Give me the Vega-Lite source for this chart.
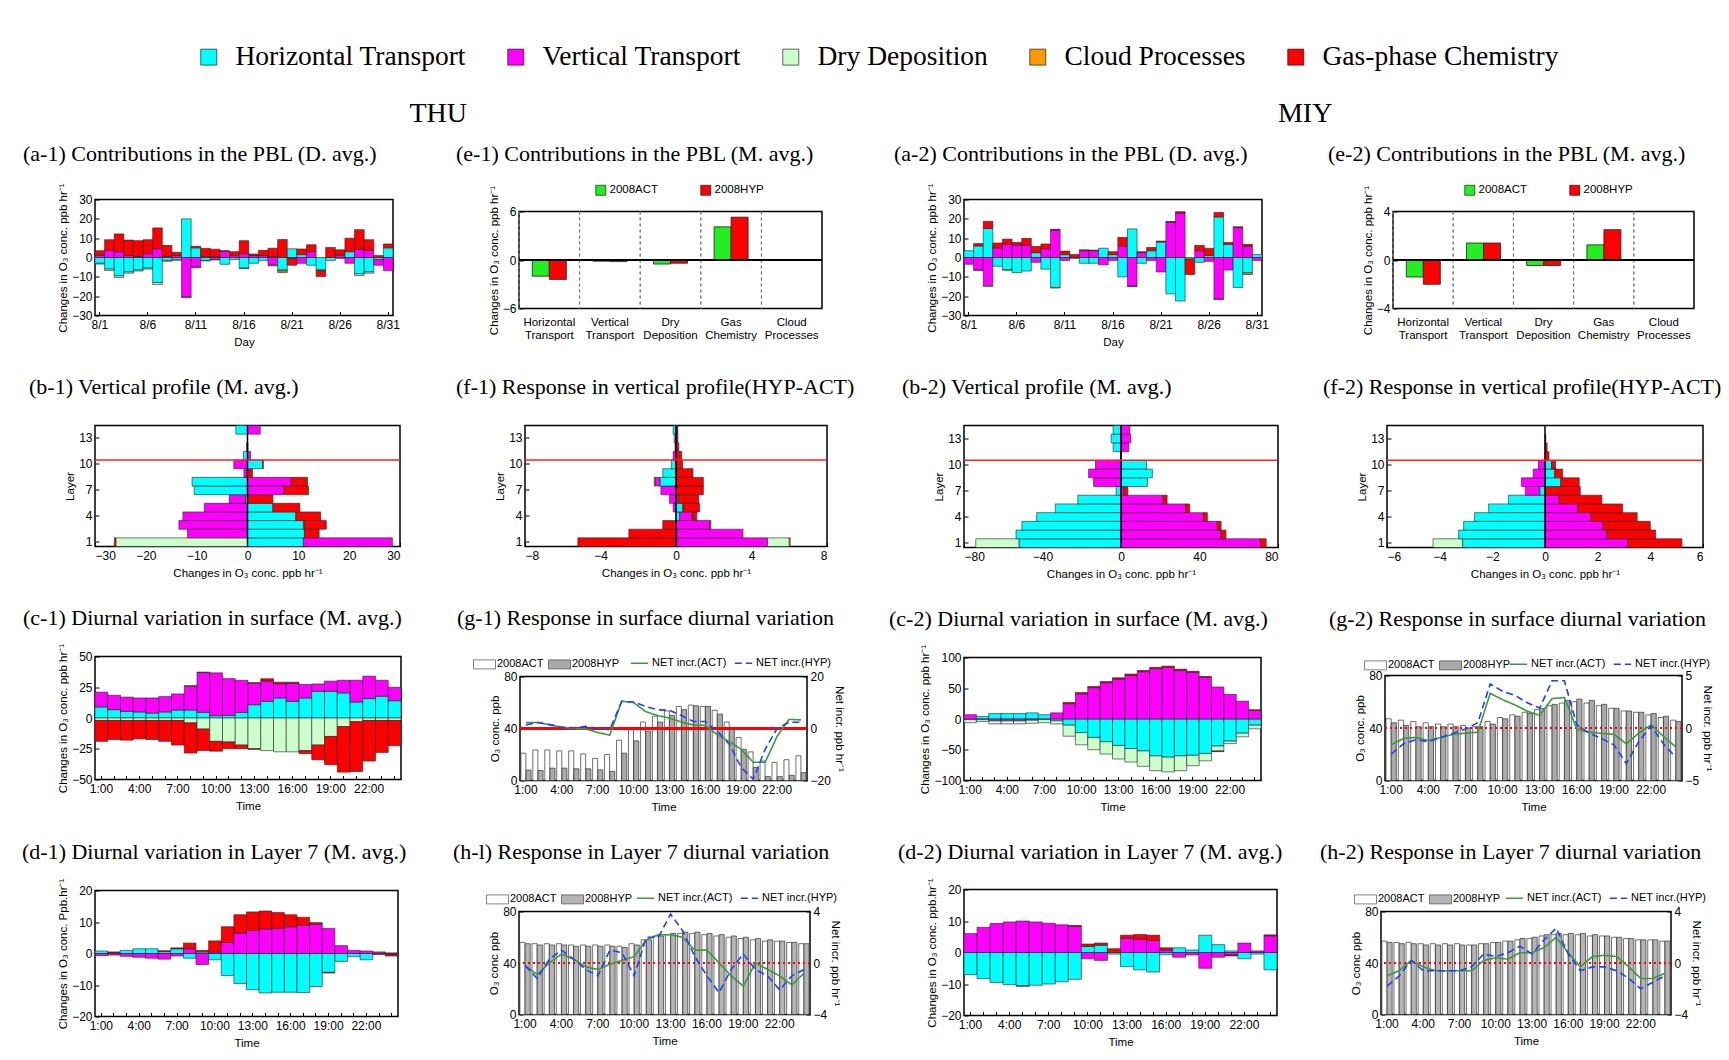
{
"$schema":"https://vega.github.io/schema/vega-lite/v6.json",
"background":"white",
"padding":{"left":22,"top":43,"right":2,"bottom":5},
"config":{
 "font":"Liberation Sans",
 "view":{"stroke":"black","strokeWidth":1.5},
 "axis":{"domain":false,"grid":false,"ticks":true,"tickSize":-4,"tickColor":"black","labelPadding":7,"labelFont":"Liberation Sans","labelFontSize":12,"labelColor":"black","titleFont":"Liberation Sans","titleFontSize":11.5,"titleFontWeight":"normal","titleColor":"black","titlePadding":3,"labelOverlap":false},
 "axisX":{"labelAngle":0,"labelPadding":8,"titlePadding":6},
 "title":{"font":"Liberation Serif","fontSize":22,"fontWeight":"normal","color":"black","anchor":"start","frame":"group"},
 "legend":{"labelFont":"Liberation Sans","labelColor":"black"},
 "bar":{"stroke":"#222","strokeWidth":0.6}
},
"datasets":{
 "rank":[{"proc":"HT","rank":1},{"proc":"VT","rank":2},{"proc":"DD","rank":3},{"proc":"CP","rank":4},{"proc":"GC","rank":5}],
 "proc":[
{"p":"a1","x":1,"HT":-3,"VT":1.2,"DD":-0.4,"GC":2.3},
{"p":"a1","x":2,"HT":-6,"VT":3.7,"DD":-0.7,"GC":5.5},
{"p":"a1","x":3,"HT":-9.5,"VT":3,"DD":-0.8,"GC":9.2},
{"p":"a1","x":4,"HT":-7.5,"VT":1,"DD":-0.6,"GC":8},
{"p":"a1","x":5,"HT":-6.5,"VT":0.5,"DD":-0.5,"GC":8.2},
{"p":"a1","x":6,"HT":-5.5,"VT":2,"DD":-0.5,"GC":7.2},
{"p":"a1","x":7,"HT":-13,"VT":4.5,"DD":-1,"GC":10.8},
{"p":"a1","x":8,"HT":-1.5,"VT":0.5,"DD":-0.5,"GC":5.8},
{"p":"a1","x":9,"HT":-1,"VT":1,"DD":-0.5,"GC":1.7},
{"p":"a1","x":10,"HT":20,"VT":-20.5,"DD":-0.3},
{"p":"a1","x":11,"HT":5,"VT":-5,"DD":-0.3,"GC":0.8},
{"p":"a1","x":12,"HT":-1.5,"VT":0.5,"DD":-0.3,"GC":4.2},
{"p":"a1","x":13,"HT":0.5,"VT":-1,"DD":-0.3,"GC":3.8},
{"p":"a1","x":14,"HT":-3.5,"VT":3.2,"GC":0.3},
{"p":"a1","x":15,"HT":-1,"VT":1,"GC":2},
{"p":"a1","x":16,"HT":-5.5,"VT":2,"DD":-0.3,"GC":6.7},
{"p":"a1","x":17,"HT":-3,"VT":1,"GC":0.8},
{"p":"a1","x":18,"HT":-1.5,"VT":1,"GC":2.7},
{"p":"a1","x":19,"HT":0.5,"VT":-4,"DD":-0.3,"GC":4.3},
{"p":"a1","x":20,"HT":-6.5,"DD":-0.5,"CP":-0.8,"GC":9.3},
{"p":"a1","x":21,"HT":4.5,"VT":-0.5,"GC":-3.5},
{"p":"a1","x":22,"HT":1.5,"VT":-3,"GC":2.9},
{"p":"a1","x":23,"HT":-4,"VT":3,"GC":3.6},
{"p":"a1","x":24,"HT":-6.5,"DD":-0.3,"GC":-3},
{"p":"a1","x":25,"HT":-1.5,"GC":5.2},
{"p":"a1","x":26,"HT":-0.5,"VT":1.2,"GC":2.8},
{"p":"a1","x":27,"HT":3,"VT":-3,"GC":7},
{"p":"a1","x":28,"HT":-8.5,"VT":4.2,"DD":-0.8,"GC":10.2},
{"p":"a1","x":29,"HT":-7.5,"VT":3.7,"DD":-0.6,"GC":5.5},
{"p":"a1","x":30,"HT":-1,"VT":-3,"GC":1},
{"p":"a1","x":31,"HT":5,"VT":-6.8,"GC":2},
{"p":"a2","x":1,"HT":3.5,"VT":-3.5},
{"p":"a2","x":2,"HT":6,"VT":-6.5,"DD":-0.3,"GC":1.2},
{"p":"a2","x":3,"HT":15,"VT":-14.5,"DD":-0.5,"GC":3.7},
{"p":"a2","x":4,"HT":-4.5,"VT":5,"GC":2.5},
{"p":"a2","x":5,"HT":-6.3,"VT":7,"DD":-0.3,"GC":2.5},
{"p":"a2","x":6,"HT":-7.8,"VT":6.5,"GC":1.3},
{"p":"a2","x":7,"HT":-7,"VT":6.5,"GC":3.4},
{"p":"a2","x":8,"HT":2.5,"VT":-2.5,"GC":3.2},
{"p":"a2","x":9,"HT":-6,"VT":4.5,"GC":2.5},
{"p":"a2","x":10,"HT":-15.5,"VT":14.2,"DD":-0.3,"GC":0.4},
{"p":"a2","x":11,"HT":1.5,"VT":-1.5,"GC":1.8},
{"p":"a2","x":12,"HT":-0.5,"GC":1.5},
{"p":"a2","x":13,"HT":-3,"VT":3.5,"GC":0.5},
{"p":"a2","x":14,"HT":-3,"VT":3.5,"GC":0.3},
{"p":"a2","x":15,"HT":4.8,"VT":-3.8},
{"p":"a2","x":16,"HT":1.5,"VT":-1.5,"GC":1.5},
{"p":"a2","x":17,"HT":-10,"VT":6,"GC":4.4},
{"p":"a2","x":18,"HT":14.8,"VT":-14.8,"DD":-0.2},
{"p":"a2","x":19,"HT":-3,"VT":2.5,"GC":0.5},
{"p":"a2","x":20,"HT":3.5,"VT":-1.5,"GC":1.7},
{"p":"a2","x":21,"HT":8,"VT":-7.5,"GC":0.5},
{"p":"a2","x":22,"HT":-18.8,"VT":18.3,"GC":0.3},
{"p":"a2","x":23,"HT":-22.5,"VT":23,"GC":0.7},
{"p":"a2","x":24,"HT":-0.8,"GC":-8},
{"p":"a2","x":25,"HT":-2.5,"VT":3.5,"GC":2.8},
{"p":"a2","x":26,"HT":1,"VT":-2,"GC":3.7},
{"p":"a2","x":27,"HT":21,"VT":-21.5,"DD":-0.3,"GC":2.3},
{"p":"a2","x":28,"HT":6.8,"VT":-6.5,"GC":1},
{"p":"a2","x":29,"HT":-15.5,"VT":15.5,"GC":0.4},
{"p":"a2","x":30,"HT":-8,"VT":5.8,"CP":-0.8,"GC":1},
{"p":"a2","x":31,"HT":1.5,"VT":-1.5},
{"p":"b1","x":1,"HT":11,"VT":17.5,"DD":-25.9,"GC":-0.3},
{"p":"b1","x":2,"HT":11.2,"VT":-11.8,"GC":2.9},
{"p":"b1","x":3,"HT":11,"VT":-13.5,"CP":0.2,"GC":4.3},
{"p":"b1","x":4,"HT":9.5,"VT":-12.7,"GC":4.9},
{"p":"b1","x":5,"HT":5,"VT":-8.5,"GC":5.3},
{"p":"b1","x":6,"HT":-0.4,"VT":-3.2,"GC":5},
{"p":"b1","x":7,"HT":-10.5,"VT":7.2,"GC":4.8},
{"p":"b1","x":8,"HT":-10.9,"VT":8.6,"GC":3.2},
{"p":"b1","x":9,"HT":-0.1,"VT":-0.6,"GC":1},
{"p":"b1","x":10,"HT":3,"VT":-2.7,"GC":0.1},
{"p":"b1","x":11,"HT":-0.8,"VT":0.6},
{"p":"b1","x":12,"HT":-0.2,"VT":0.1},
{"p":"b1","x":14,"HT":-2.3,"VT":2.5},
{"p":"f1","x":1,"HT":0.05,"VT":4.8,"DD":1.15,"CP":0.05,"GC":-5.2},
{"p":"f1","x":2,"HT":0.05,"VT":3.5,"GC":-2.5},
{"p":"f1","x":3,"VT":1.8,"CP":0.05,"GC":-0.7},
{"p":"f1","x":4,"HT":0.2,"VT":0.65,"GC":0.2,"CP":0.05},
{"p":"f1","x":5,"HT":0.35,"VT":-0.15,"GC":0.85,"CP":0.05},
{"p":"f1","x":6,"HT":0.1,"VT":-0.35,"GC":1.1},
{"p":"f1","x":7,"VT":-0.8,"GC":1.45},
{"p":"f1","x":8,"HT":-0.85,"VT":-0.25,"CP":-0.05,"GC":1.45},
{"p":"f1","x":9,"HT":-0.7,"GC":0.9},
{"p":"f1","x":10,"HT":-0.25,"GC":0.35},
{"p":"f1","x":11,"VT":-0.15,"GC":0.3},
{"p":"f1","x":12,"HT":-0.05,"GC":0.15},
{"p":"f1","x":13,"HT":-0.1,"GC":0.1},
{"p":"f1","x":14,"HT":-0.15,"GC":0.1},
{"p":"b2","x":1,"HT":-52,"VT":71,"DD":-22,"GC":3},
{"p":"b2","x":2,"HT":-53.5,"VT":51,"GC":2.5},
{"p":"b2","x":3,"HT":-50.5,"VT":49,"GC":2},
{"p":"b2","x":4,"HT":-43,"VT":42,"GC":2},
{"p":"b2","x":5,"HT":-33.5,"VT":33,"GC":2},
{"p":"b2","x":6,"HT":-22,"VT":21.5,"GC":2},
{"p":"b2","x":7,"HT":-2.5,"VT":1.5,"GC":2},
{"p":"b2","x":8,"HT":13.5,"VT":-14},
{"p":"b2","x":9,"HT":16,"VT":-16.5},
{"p":"b2","x":10,"HT":13,"VT":-13},
{"p":"b2","x":11,"HT":0.3,"VT":-0.3},
{"p":"b2","x":12,"HT":-4,"VT":4},
{"p":"b2","x":13,"HT":-5,"VT":5},
{"p":"b2","x":14,"HT":-4,"VT":4.5},
{"p":"f2","x":1,"HT":-3.13,"VT":3.15,"DD":-1.12,"GC":2.05},
{"p":"f2","x":2,"HT":-3.28,"VT":2.35,"GC":1.85},
{"p":"f2","x":3,"HT":-3.09,"VT":2.2,"GC":1.8},
{"p":"f2","x":4,"HT":-2.68,"VT":1.75,"GC":1.75},
{"p":"f2","x":5,"HT":-2.14,"VT":1.24,"GC":1.71},
{"p":"f2","x":6,"HT":-1.39,"VT":0.54,"GC":1.62},
{"p":"f2","x":7,"HT":-0.2,"VT":-0.55,"GC":1.34},
{"p":"f2","x":8,"HT":0.6,"VT":-0.9,"GC":0.7},
{"p":"f2","x":9,"HT":0.37,"VT":-0.45,"GC":0.3},
{"p":"f2","x":10,"HT":0.25,"VT":-0.25,"GC":0.15},
{"p":"f2","x":11,"GC":0.15},
{"p":"f2","x":12,"GC":0.08},
{"p":"f2","x":13,"GC":0.03},
{"p":"c1","x":1,"HT":9,"VT":12,"DD":-2,"GC":-17},
{"p":"c1","x":2,"HT":6.8,"VT":11.7,"DD":-2,"GC":-15.5},
{"p":"c1","x":3,"HT":5.4,"VT":11.6,"DD":-2,"GC":-16},
{"p":"c1","x":4,"HT":4.9,"VT":11.4,"DD":-2,"GC":-15},
{"p":"c1","x":5,"HT":4,"VT":12.3,"DD":-2,"GC":-15.5},
{"p":"c1","x":6,"HT":4.9,"VT":12.5,"DD":-2,"GC":-17},
{"p":"c1","x":7,"HT":6.5,"VT":13.1,"DD":-2,"GC":-20},
{"p":"c1","x":8,"HT":6.5,"VT":19.3,"DD":-4,"CP":0.5,"GC":-24.5},
{"p":"c1","x":9,"HT":4.6,"VT":32.4,"DD":-9,"CP":0.3,"GC":-17.5},
{"p":"c1","x":10,"HT":1.9,"VT":34.8,"DD":-19,"GC":-8},
{"p":"c1","x":11,"HT":2.2,"VT":29.8,"DD":-19.5,"GC":-5.5},
{"p":"c1","x":12,"HT":4.6,"VT":26,"DD":-22,"GC":-3},
{"p":"c1","x":13,"HT":10.8,"VT":17.5,"DD":-25,"CP":0.5,"GC":-0.5},
{"p":"c1","x":14,"HT":13.6,"VT":16.5,"DD":-26.5,"GC":1.8},
{"p":"c1","x":15,"HT":16.3,"VT":11.5,"DD":-27.5,"GC":1.3},
{"p":"c1","x":16,"HT":13.6,"VT":14.5,"DD":-27.5,"GC":1},
{"p":"c1","x":17,"HT":16.3,"VT":11,"DD":-26.5,"GC":-2.5},
{"p":"c1","x":18,"HT":21.7,"VT":6,"DD":-22,"GC":-12},
{"p":"c1","x":19,"HT":21.7,"VT":8.3,"DD":-15,"GC":-23},
{"p":"c1","x":20,"HT":20.4,"VT":10.3,"DD":-7,"GC":-37},
{"p":"c1","x":21,"HT":13,"VT":17.7,"DD":-3,"GC":-40.5},
{"p":"c1","x":22,"HT":15.8,"VT":18.2,"DD":-2,"GC":-33},
{"p":"c1","x":23,"HT":17.7,"VT":13,"DD":-2,"GC":-26},
{"p":"c1","x":24,"HT":14.1,"VT":10.9,"DD":-2,"GC":-20.5},
{"p":"c2","x":1,"HT":-1,"VT":7,"DD":-5},
{"p":"c2","x":2,"HT":4.3,"VT":-1,"DD":-3},
{"p":"c2","x":3,"HT":9,"VT":-3,"DD":-5},
{"p":"c2","x":4,"HT":9,"VT":-3,"DD":-5},
{"p":"c2","x":5,"HT":9,"VT":-3,"DD":-5},
{"p":"c2","x":6,"HT":10,"VT":-2,"DD":-5},
{"p":"c2","x":7,"HT":7,"VT":-1,"DD":-5},
{"p":"c2","x":8,"HT":-3,"VT":10,"DD":-5},
{"p":"c2","x":9,"HT":-10,"VT":25,"DD":-18,"GC":2},
{"p":"c2","x":10,"HT":-22,"VT":41,"DD":-20,"GC":2},
{"p":"c2","x":11,"HT":-30,"VT":51,"DD":-20,"GC":2},
{"p":"c2","x":12,"HT":-37,"VT":59,"DD":-20,"GC":2},
{"p":"c2","x":13,"HT":-43,"VT":65,"DD":-22,"GC":2},
{"p":"c2","x":14,"HT":-48,"VT":71,"DD":-22,"GC":2},
{"p":"c2","x":15,"HT":-52,"VT":77,"DD":-25,"GC":2},
{"p":"c2","x":16,"HT":-60,"VT":82,"DD":-24,"GC":2},
{"p":"c2","x":17,"HT":-62,"VT":84,"DD":-24,"GC":2},
{"p":"c2","x":18,"HT":-60,"VT":79,"DD":-24,"GC":2},
{"p":"c2","x":19,"HT":-59,"VT":76,"DD":-17,"GC":1.5},
{"p":"c2","x":20,"HT":-56,"VT":68,"DD":-12,"GC":1},
{"p":"c2","x":21,"HT":-44,"VT":52,"DD":-8,"GC":-1},
{"p":"c2","x":22,"HT":-36,"VT":40,"DD":-4},
{"p":"c2","x":23,"HT":-23,"VT":29,"DD":-6},
{"p":"c2","x":24,"HT":-10,"VT":14,"DD":-6,"GC":1},
{"p":"d1","x":1,"HT":0.8,"VT":-0.7},
{"p":"d1","x":2,"HT":0.3,"VT":-0.5,"GC":0.2},
{"p":"d1","x":3,"HT":1,"VT":-0.9},
{"p":"d1","x":4,"HT":1.5,"VT":-1.2},
{"p":"d1","x":5,"HT":1.5,"VT":-1.5},
{"p":"d1","x":6,"HT":0.6,"VT":-1.8,"GC":0.3},
{"p":"d1","x":7,"HT":1.5,"VT":-0.8,"GC":0.3},
{"p":"d1","x":8,"HT":-1.5,"VT":1.5,"GC":1.8},
{"p":"d1","x":9,"HT":0.5,"VT":-3.5,"GC":0.5},
{"p":"d1","x":10,"HT":-2,"VT":0.5,"GC":3.5},
{"p":"d1","x":11,"HT":-7,"VT":3.5,"GC":5},
{"p":"d1","x":12,"HT":-9.5,"VT":6.5,"GC":5.8},
{"p":"d1","x":13,"HT":-11.5,"VT":7.3,"GC":5.9},
{"p":"d1","x":14,"HT":-12.5,"VT":7.8,"GC":5.7},
{"p":"d1","x":15,"HT":-12.3,"VT":8,"GC":5},
{"p":"d1","x":16,"HT":-12.3,"VT":8.5,"GC":3.8},
{"p":"d1","x":17,"HT":-12.4,"VT":9,"GC":2.5},
{"p":"d1","x":18,"HT":-10.5,"VT":9.3,"GC":0.5},
{"p":"d1","x":19,"HT":-6,"VT":8,"GC":-0.2},
{"p":"d1","x":20,"HT":-2.5,"VT":2.5},
{"p":"d1","x":21,"HT":-1,"VT":1},
{"p":"d1","x":22,"HT":-2,"VT":0.8},
{"p":"d1","x":23,"VT":0.5,"GC":-0.3},
{"p":"d1","x":24,"HT":-0.3,"VT":0.2,"GC":-0.5},
{"p":"d2","x":1,"HT":-7,"VT":6},
{"p":"d2","x":2,"HT":-8.3,"VT":8},
{"p":"d2","x":3,"HT":-9.5,"VT":9.2},
{"p":"d2","x":4,"HT":-10.2,"VT":9.7},
{"p":"d2","x":5,"HT":-10.5,"VT":10,"DD":-0.3},
{"p":"d2","x":6,"HT":-10.4,"VT":9.7},
{"p":"d2","x":7,"HT":-10,"VT":9.3},
{"p":"d2","x":8,"HT":-9.3,"VT":8.8},
{"p":"d2","x":9,"HT":-8.5,"VT":8.3,"GC":0.3},
{"p":"d2","x":10,"HT":1.9,"VT":-2,"GC":0.8},
{"p":"d2","x":11,"HT":2.3,"VT":-2.5,"GC":0.7},
{"p":"d2","x":12,"HT":-0.5,"GC":1.2},
{"p":"d2","x":13,"HT":-4.5,"VT":4.5,"GC":1},
{"p":"d2","x":14,"HT":-5.5,"VT":4.2,"GC":1.5},
{"p":"d2","x":15,"HT":-6.2,"VT":3.8,"GC":1.7},
{"p":"d2","x":16,"HT":-0.7,"VT":0.8,"GC":0.7},
{"p":"d2","x":17,"HT":1.5,"VT":-1.5},
{"p":"d2","x":18,"HT":0.8,"VT":-0.8},
{"p":"d2","x":19,"HT":5.5,"VT":-5},
{"p":"d2","x":20,"HT":2.5,"VT":-1.5},
{"p":"d2","x":21,"HT":0.5,"VT":-0.8,"GC":-0.3},
{"p":"d2","x":22,"HT":-2,"VT":3},
{"p":"d2","x":23,"HT":-0.5,"VT":0.5},
{"p":"d2","x":24,"HT":-5.5,"VT":5.3,"GC":0.3}
 ],
 "pbl":[
{"p":"e1","cat":"Horizontal Transport","run":"2008ACT","val":-2.0},
{"p":"e1","cat":"Horizontal Transport","run":"2008HYP","val":-2.4},
{"p":"e1","cat":"Vertical Transport","run":"2008ACT","val":-0.15},
{"p":"e1","cat":"Vertical Transport","run":"2008HYP","val":-0.2},
{"p":"e1","cat":"Dry Deposition","run":"2008ACT","val":-0.5},
{"p":"e1","cat":"Dry Deposition","run":"2008HYP","val":-0.4},
{"p":"e1","cat":"Gas Chemistry","run":"2008ACT","val":4.1},
{"p":"e1","cat":"Gas Chemistry","run":"2008HYP","val":5.3},
{"p":"e1","cat":"Cloud Processes","run":"2008ACT","val":0},
{"p":"e1","cat":"Cloud Processes","run":"2008HYP","val":0},
{"p":"e2","cat":"Horizontal Transport","run":"2008ACT","val":-1.4},
{"p":"e2","cat":"Horizontal Transport","run":"2008HYP","val":-2.0},
{"p":"e2","cat":"Vertical Transport","run":"2008ACT","val":1.4},
{"p":"e2","cat":"Vertical Transport","run":"2008HYP","val":1.4},
{"p":"e2","cat":"Dry Deposition","run":"2008ACT","val":-0.45},
{"p":"e2","cat":"Dry Deposition","run":"2008HYP","val":-0.45},
{"p":"e2","cat":"Gas Chemistry","run":"2008ACT","val":1.25},
{"p":"e2","cat":"Gas Chemistry","run":"2008HYP","val":2.5},
{"p":"e2","cat":"Cloud Processes","run":"2008ACT","val":0},
{"p":"e2","cat":"Cloud Processes","run":"2008HYP","val":0}
 ],
 "resp":[
{"p":"g1","x":1,"ACT":21,"HYP":8,"netACT":2.3,"netHYP":1.4},
{"p":"g1","x":2,"ACT":23.5,"HYP":7.7,"netACT":2.3,"netHYP":2.3},
{"p":"g1","x":3,"ACT":23.5,"HYP":9.5,"netACT":1.4,"netHYP":1.5},
{"p":"g1","x":4,"ACT":22.8,"HYP":9.5,"netACT":0.5,"netHYP":0.5},
{"p":"g1","x":5,"ACT":22.8,"HYP":9,"netACT":0,"netHYP":0.3},
{"p":"g1","x":6,"ACT":20.5,"HYP":9,"netACT":-0.2,"netHYP":0.8},
{"p":"g1","x":7,"ACT":17,"HYP":8.2,"netACT":-1.5,"netHYP":0},
{"p":"g1","x":8,"ACT":20,"HYP":7,"netACT":-2.6,"netHYP":-0.5},
{"p":"g1","x":9,"ACT":31,"HYP":21,"netACT":10.5,"netHYP":10.4},
{"p":"g1","x":10,"ACT":39,"HYP":30.5,"netACT":10,"netHYP":10.2},
{"p":"g1","x":11,"ACT":45,"HYP":38,"netACT":6.5,"netHYP":8.5},
{"p":"g1","x":12,"ACT":49.5,"HYP":45,"netACT":5,"netHYP":7.2},
{"p":"g1","x":13,"ACT":53.5,"HYP":50,"netACT":4,"netHYP":7},
{"p":"g1","x":14,"ACT":57,"HYP":54.5,"netACT":2.5,"netHYP":5},
{"p":"g1","x":15,"ACT":58,"HYP":57.5,"netACT":1.3,"netHYP":2.7},
{"p":"g1","x":16,"ACT":57,"HYP":57,"netACT":1.2,"netHYP":2.7},
{"p":"g1","x":17,"ACT":54,"HYP":51,"netACT":-2.4,"netHYP":-1},
{"p":"g1","x":18,"ACT":45,"HYP":40,"netACT":-5,"netHYP":-6},
{"p":"g1","x":19,"ACT":33,"HYP":24,"netACT":-8,"netHYP":-15},
{"p":"g1","x":20,"ACT":22,"HYP":10,"netACT":-13,"netHYP":-19.5},
{"p":"g1","x":21,"ACT":15,"HYP":3,"netACT":-13,"netHYP":-8},
{"p":"g1","x":22,"ACT":14,"HYP":3,"netACT":-3,"netHYP":0},
{"p":"g1","x":23,"ACT":16,"HYP":4,"netACT":3.5,"netHYP":2.4},
{"p":"g1","x":24,"ACT":19,"HYP":6,"netACT":3.3,"netHYP":2.4},
{"p":"g2","x":1,"ACT":47,"HYP":44,"netACT":-1.6,"netHYP":-2.5},
{"p":"g2","x":2,"ACT":46,"HYP":42,"netACT":-1.0,"netHYP":-1.5},
{"p":"g2","x":3,"ACT":45,"HYP":41,"netACT":-0.9,"netHYP":-1.1},
{"p":"g2","x":4,"ACT":44,"HYP":41,"netACT":-1.2,"netHYP":-1.3},
{"p":"g2","x":5,"ACT":43,"HYP":41,"netACT":-0.9,"netHYP":-0.9},
{"p":"g2","x":6,"ACT":43,"HYP":41,"netACT":-0.6,"netHYP":-0.5},
{"p":"g2","x":7,"ACT":42,"HYP":40,"netACT":-0.5,"netHYP":-0.1},
{"p":"g2","x":8,"ACT":41,"HYP":41,"netACT":-0.4,"netHYP":0.5},
{"p":"g2","x":9,"ACT":45,"HYP":43,"netACT":3.3,"netHYP":4.2},
{"p":"g2","x":10,"ACT":48,"HYP":47,"netACT":2.7,"netHYP":3.5},
{"p":"g2","x":11,"ACT":50,"HYP":49,"netACT":2.2,"netHYP":3.1},
{"p":"g2","x":12,"ACT":52,"HYP":51,"netACT":1.6,"netHYP":2.4},
{"p":"g2","x":13,"ACT":54,"HYP":55,"netACT":1.2,"netHYP":1.9},
{"p":"g2","x":14,"ACT":57,"HYP":58,"netACT":2.8,"netHYP":4.5},
{"p":"g2","x":15,"ACT":59,"HYP":61,"netACT":2.9,"netHYP":4.5},
{"p":"g2","x":16,"ACT":60,"HYP":62,"netACT":-0.1,"netHYP":0.3},
{"p":"g2","x":17,"ACT":59,"HYP":61,"netACT":-0.4,"netHYP":-0.5},
{"p":"g2","x":18,"ACT":57,"HYP":58,"netACT":-0.5,"netHYP":-1.0},
{"p":"g2","x":19,"ACT":55,"HYP":55,"netACT":-0.6,"netHYP":-1.6},
{"p":"g2","x":20,"ACT":53,"HYP":53,"netACT":-1.5,"netHYP":-3.4},
{"p":"g2","x":21,"ACT":52,"HYP":52,"netACT":-0.5,"netHYP":-1.3},
{"p":"g2","x":22,"ACT":50,"HYP":51,"netACT":0.3,"netHYP":0.2},
{"p":"g2","x":23,"ACT":48,"HYP":49,"netACT":-0.8,"netHYP":-1.5},
{"p":"g2","x":24,"ACT":46,"HYP":45,"netACT":-1.8,"netHYP":-2.8},
{"p":"h1","x":1,"ACT":56,"HYP":55,"netACT":-0.2,"netHYP":-0.2},
{"p":"h1","x":2,"ACT":55,"HYP":54,"netACT":-0.9,"netHYP":-1.2},
{"p":"h1","x":3,"ACT":55,"HYP":54,"netACT":0,"netHYP":0.3},
{"p":"h1","x":4,"ACT":55,"HYP":54,"netACT":0.7,"netHYP":1.0},
{"p":"h1","x":5,"ACT":54,"HYP":53,"netACT":0.3,"netHYP":0.3},
{"p":"h1","x":6,"ACT":54,"HYP":53,"netACT":-0.3,"netHYP":-0.5},
{"p":"h1","x":7,"ACT":54,"HYP":53,"netACT":-0.5,"netHYP":-1.0},
{"p":"h1","x":8,"ACT":54,"HYP":53,"netACT":-0.1,"netHYP":1.0},
{"p":"h1","x":9,"ACT":53,"HYP":52,"netACT":0.2,"netHYP":0.8},
{"p":"h1","x":10,"ACT":55,"HYP":54,"netACT":0.5,"netHYP":-1.0},
{"p":"h1","x":11,"ACT":58,"HYP":58,"netACT":1.8,"netHYP":2.0},
{"p":"h1","x":12,"ACT":61,"HYP":61,"netACT":2.2,"netHYP":2.0},
{"p":"h1","x":13,"ACT":62,"HYP":63,"netACT":2.2,"netHYP":3.8},
{"p":"h1","x":14,"ACT":63,"HYP":64,"netACT":2.0,"netHYP":2.5},
{"p":"h1","x":15,"ACT":63,"HYP":64,"netACT":1.0,"netHYP":0.5},
{"p":"h1","x":16,"ACT":62,"HYP":63,"netACT":1.0,"netHYP":-1.0},
{"p":"h1","x":17,"ACT":61,"HYP":62,"netACT":0,"netHYP":-2.3},
{"p":"h1","x":18,"ACT":60,"HYP":61,"netACT":-1.0,"netHYP":-0.5},
{"p":"h1","x":19,"ACT":59,"HYP":60,"netACT":-1.8,"netHYP":0.7},
{"p":"h1","x":20,"ACT":58,"HYP":59,"netACT":0,"netHYP":-0.5},
{"p":"h1","x":21,"ACT":57,"HYP":58,"netACT":-0.5,"netHYP":-1.0},
{"p":"h1","x":22,"ACT":57,"HYP":57,"netACT":-1.0,"netHYP":-2.1},
{"p":"h1","x":23,"ACT":56,"HYP":56,"netACT":-1.7,"netHYP":-1.0},
{"p":"h1","x":24,"ACT":55,"HYP":55,"netACT":-0.8,"netHYP":-0.5},
{"p":"h2","x":1,"ACT":57,"HYP":56,"netACT":-1.0,"netHYP":-1.8},
{"p":"h2","x":2,"ACT":56,"HYP":55,"netACT":-0.6,"netHYP":-1.0},
{"p":"h2","x":3,"ACT":56,"HYP":55,"netACT":0.2,"netHYP":0.2},
{"p":"h2","x":4,"ACT":55,"HYP":54,"netACT":-0.3,"netHYP":-0.6},
{"p":"h2","x":5,"ACT":55,"HYP":54,"netACT":-0.6,"netHYP":-0.6},
{"p":"h2","x":6,"ACT":55,"HYP":54,"netACT":-0.6,"netHYP":-0.6},
{"p":"h2","x":7,"ACT":55,"HYP":54,"netACT":-0.6,"netHYP":-0.6},
{"p":"h2","x":8,"ACT":54,"HYP":54,"netACT":-0.6,"netHYP":-0.3},
{"p":"h2","x":9,"ACT":55,"HYP":55,"netACT":0.2,"netHYP":0.7},
{"p":"h2","x":10,"ACT":56,"HYP":56,"netACT":0.4,"netHYP":0.5},
{"p":"h2","x":11,"ACT":57,"HYP":57,"netACT":0.3,"netHYP":0.8},
{"p":"h2","x":12,"ACT":58,"HYP":59,"netACT":0.8,"netHYP":1.3},
{"p":"h2","x":13,"ACT":59,"HYP":60,"netACT":0.8,"netHYP":0.7},
{"p":"h2","x":14,"ACT":61,"HYP":62,"netACT":1.2,"netHYP":1.8},
{"p":"h2","x":15,"ACT":62,"HYP":63,"netACT":2.0,"netHYP":2.7},
{"p":"h2","x":16,"ACT":62,"HYP":63,"netACT":0.8,"netHYP":0.7},
{"p":"h2","x":17,"ACT":62,"HYP":63,"netACT":-0.3,"netHYP":-0.6},
{"p":"h2","x":18,"ACT":61,"HYP":62,"netACT":0.5,"netHYP":-0.3},
{"p":"h2","x":19,"ACT":61,"HYP":61,"netACT":0.6,"netHYP":-0.3},
{"p":"h2","x":20,"ACT":60,"HYP":60,"netACT":0.5,"netHYP":-0.6},
{"p":"h2","x":21,"ACT":59,"HYP":59,"netACT":-0.3,"netHYP":-1.2},
{"p":"h2","x":22,"ACT":58,"HYP":58,"netACT":-1.2,"netHYP":-2.0},
{"p":"h2","x":23,"ACT":58,"HYP":58,"netACT":-1.2,"netHYP":-1.5},
{"p":"h2","x":24,"ACT":57,"HYP":57,"netACT":-0.8,"netHYP":-1.0}
 ]
},
"spacing":34,
"resolve":{"scale":{"fill":"independent","stroke":"independent","strokeDash":"independent"},"legend":{"fill":"independent","stroke":"independent","strokeDash":"independent"}},
"hconcat":[
{
 "title":{"text":"THU","anchor":"middle","fontSize":28,"frame":"bounds","offset":15},
 "spacing":27,
 "resolve":{"scale":{"fill":"independent","stroke":"independent","strokeDash":"independent"},"legend":{"fill":"independent","stroke":"independent","strokeDash":"independent"}},
 "vconcat":[
  {"columns":2,"align":"none","bounds":"full","spacing":55,
   "resolve":{"scale":{"fill":"independent","stroke":"independent","strokeDash":"independent"},"legend":{"fill":"independent","stroke":"independent","strokeDash":"independent"}},
   "concat":[
    {"spacing":12.5,"resolve":{"scale":{"fill":"independent","stroke":"independent","strokeDash":"independent"},"legend":{"fill":"independent","stroke":"independent","strokeDash":"independent"}},
     "vconcat":[
      {"width":298,"height":1,"view":{"stroke":null},"title":{"text":"(a-1) Contributions in the PBL (D. avg.)","dx":-72,"offset":2},"data":{"values":[]},"mark":"point","encoding":{}},
      {"width":298,"height":116,
       "data":{"name":"proc"},
       "transform":[{"filter":"datum.p == 'a1'"},{"fold":["HT","VT","DD","CP","GC"],"as":["proc","val"]},{"filter":"isValid(datum.val) && datum.val != 0"},{"lookup":"proc","from":{"data":{"name":"rank"},"key":"proc","fields":["rank"]}}],
       "mark":"bar",
       "encoding":{
        "x":{"field":"x","type":"ordinal","scale":{"paddingInner":0,"paddingOuter":0},"axis":{"values":[1,6,11,16,21,26,31],"labelExpr":"'8/' + datum.value","title":"Day"}},
        "y":{"field":"val","type":"quantitative","stack":"zero","scale":{"domain":[-30,30],"nice":false},"axis":{"values":[-30,-20,-10,0,10,20,30],"title":"Changes in O₃ conc. ppb hr⁻¹"}},
        "color":{"field":"proc","type":"nominal","scale":{"domain":["HT","VT","DD","CP","GC"],"range":["#00ffff","#ff00ff","#ccffcc","#ff9900","#ff0000"]},
          "legend":{"orient":"none","legendX":100,"legendY":-125,"direction":"horizontal","title":null,"labelExpr":"{'HT':'Horizontal Transport','VT':'Vertical Transport','DD':'Dry Deposition','CP':'Cloud Processes','GC':'Gas-phase Chemistry'}[datum.label]","labelFont":"Liberation Serif","labelFontSize":27.5,"labelLimit":400,"symbolType":"square","symbolSize":256,"symbolStrokeColor":"black","symbolStrokeWidth":1.5,"columnPadding":36,"labelOffset":13}},
        "order":{"field":"rank","type":"quantitative"}
       }}
     ]},
    {"spacing":14.5,"resolve":{"scale":{"fill":"independent","stroke":"independent","strokeDash":"independent"},"legend":{"fill":"independent","stroke":"independent","strokeDash":"independent"}},
     "vconcat":[
      {"width":303,"height":1,"view":{"stroke":null},"title":{"text":"(e-1) Contributions in the PBL (M. avg.)","dx":-63,"offset":2},"data":{"values":[]},"mark":"point","encoding":{}},
      {"width":303,"height":97,
       "data":{"name":"pbl"},
       "transform":[{"filter":"datum.p == 'e1'"}],
       "layer":[
        {"mark":{"type":"rule","strokeDash":[3,3],"color":"#777","strokeWidth":1},
         "encoding":{"x":{"field":"cat","type":"nominal","sort":["Horizontal Transport","Vertical Transport","Dry Deposition","Gas Chemistry","Cloud Processes"],"bandPosition":0}}},
        {"mark":{"type":"bar","stroke":"#222","strokeWidth":0.8},
         "encoding":{
          "x":{"field":"cat","type":"nominal","sort":["Horizontal Transport","Vertical Transport","Dry Deposition","Gas Chemistry","Cloud Processes"],"scale":{"paddingInner":0,"paddingOuter":0},"axis":{"title":null,"ticks":false,"labelExpr":"split(datum.label, ' ')","labelFontSize":11.5,"labelLineHeight":13,"labelPadding":8}},
          "xOffset":{"field":"run","type":"nominal","sort":["2008ACT","2008HYP"],"scale":{"paddingInner":0,"paddingOuter":0.78}},
          "y":{"field":"val","type":"quantitative","stack":null,"scale":{"domain":[-6,6],"nice":false},"axis":{"values":[-6,-3,0,3,6],"title":"Changes in O₃ conc. ppb hr⁻¹"}},
          "fill":{"field":"run","type":"nominal","scale":{"domain":["2008ACT","2008HYP"],"range":["#22ee22","#ff0000"]},"legend":{"orient":"none","legendX":76,"legendY":-27,"direction":"horizontal","title":null,"symbolType":"square","symbolSize":100,"symbolStrokeColor":"black","symbolStrokeWidth":0.8,"labelFontSize":11.5,"columnPadding":40,"labelOffset":3}}}},
        {"mark":{"type":"rule","color":"black","strokeWidth":1.2},"encoding":{"y":{"datum":0}}}
       ]}
     ]}
   ]},
  {"columns":2,"align":"none","bounds":"full","spacing":54,
   "resolve":{"scale":{"fill":"independent","stroke":"independent","strokeDash":"independent"},"legend":{"fill":"independent","stroke":"independent","strokeDash":"independent"}},
   "concat":[
    {"spacing":21.5,"vconcat":[
      {"width":305,"height":1,"view":{"stroke":null},"title":{"text":"(b-1) Vertical profile (M. avg.)","dx":-66,"offset":2},"data":{"values":[]},"mark":"point","encoding":{}},
      {"width":305,"height":121,
       "layer":[
        {"data":{"name":"proc"},
         "transform":[{"filter":"datum.p == 'b1'"},{"fold":["HT","VT","DD","CP","GC"],"as":["proc","val"]},{"filter":"isValid(datum.val) && datum.val != 0"},{"lookup":"proc","from":{"data":{"name":"rank"},"key":"proc","fields":["rank"]}}],
         "mark":"bar",
         "encoding":{
          "y":{"field":"x","type":"ordinal","scale":{"domain":[14,13,12,11,10,9,8,7,6,5,4,3,2,1],"paddingInner":0,"paddingOuter":0},"axis":{"values":[1,4,7,10,13],"title":"Layer"}},
          "x":{"field":"val","type":"quantitative","stack":"zero","scale":{"domain":[-30,30],"nice":false},"axis":{"values":[-30,-20,-10,0,10,20,30],"title":"Changes in O₃ conc. ppb hr⁻¹"}},
          "color":{"field":"proc","type":"nominal","scale":{"domain":["HT","VT","DD","CP","GC"],"range":["#00ffff","#ff00ff","#ccffcc","#ff9900","#ff0000"]}},
          "order":{"field":"rank","type":"quantitative"}}},
        {"data":{"values":[{}]},"mark":{"type":"rule","color":"black","strokeWidth":1.5},"encoding":{"x":{"datum":0}}},
        {"data":{"values":[{}]},"mark":{"type":"rule","color":"#ff2020","strokeWidth":1.5},"encoding":{"y":{"datum":10,"type":"ordinal","bandPosition":0}}}
       ]}
     ]},
    {"spacing":21.5,"vconcat":[
      {"width":302,"height":1,"view":{"stroke":null},"title":{"text":"(f-1) Response in vertical profile(HYP-ACT)","dx":-69,"offset":2},"data":{"values":[]},"mark":"point","encoding":{}},
      {"width":302,"height":121,
       "layer":[
        {"data":{"name":"proc"},
         "transform":[{"filter":"datum.p == 'f1'"},{"fold":["HT","VT","DD","CP","GC"],"as":["proc","val"]},{"filter":"isValid(datum.val) && datum.val != 0"},{"lookup":"proc","from":{"data":{"name":"rank"},"key":"proc","fields":["rank"]}}],
         "mark":"bar",
         "encoding":{
          "y":{"field":"x","type":"ordinal","scale":{"domain":[14,13,12,11,10,9,8,7,6,5,4,3,2,1],"paddingInner":0,"paddingOuter":0},"axis":{"values":[1,4,7,10,13],"title":"Layer"}},
          "x":{"field":"val","type":"quantitative","stack":"zero","scale":{"domain":[-8,8],"nice":false},"axis":{"values":[-8,-6,-4,-2,0,2,4,6,8],"title":"Changes in O₃ conc. ppb hr⁻¹"}},
          "color":{"field":"proc","type":"nominal","scale":{"domain":["HT","VT","DD","CP","GC"],"range":["#00ffff","#ff00ff","#ccffcc","#ff9900","#ff0000"]}},
          "order":{"field":"rank","type":"quantitative"}}},
        {"data":{"values":[{}]},"mark":{"type":"rule","color":"black","strokeWidth":1.5},"encoding":{"x":{"datum":0}}},
        {"data":{"values":[{}]},"mark":{"type":"rule","color":"#ff2020","strokeWidth":1.5},"encoding":{"y":{"datum":10,"type":"ordinal","bandPosition":0}}}
       ]}
     ]}
   ]},
  {"columns":2,"align":"none","bounds":"full","spacing":54,
   "resolve":{"scale":{"fill":"independent","stroke":"independent","strokeDash":"independent"},"legend":{"fill":"independent","stroke":"independent","strokeDash":"independent"}},
   "concat":[
    {"spacing":9.5,"vconcat":[
      {"width":306,"height":1,"view":{"stroke":null},"title":{"text":"(c-1) Diurnal variation in surface (M. avg.)","dx":-72,"offset":2},"data":{"values":[]},"mark":"point","encoding":{}},
      {"width":306,"height":123,
       "data":{"name":"proc"},
       "transform":[{"filter":"datum.p == 'c1'"},{"fold":["HT","VT","DD","CP","GC"],"as":["proc","val"]},{"filter":"isValid(datum.val) && datum.val != 0"},{"lookup":"proc","from":{"data":{"name":"rank"},"key":"proc","fields":["rank"]}}],
       "mark":"bar",
       "encoding":{
        "x":{"field":"x","type":"ordinal","scale":{"paddingInner":0,"paddingOuter":0},"axis":{"labelExpr":"(datum.value - 1) % 3 == 0 ? datum.value + ':00' : ''","title":"Time"}},
        "y":{"field":"val","type":"quantitative","stack":"zero","scale":{"domain":[-50,50],"nice":false},"axis":{"values":[-50,-25,0,25,50],"title":"Changes in O₃ conc. ppb hr⁻¹"}},
        "color":{"field":"proc","type":"nominal","scale":{"domain":["HT","VT","DD","CP","GC"],"range":["#00ffff","#ff00ff","#ccffcc","#ff9900","#ff0000"]}},
        "order":{"field":"rank","type":"quantitative"}
       }}
     ]},
    {"spacing":19.5,"resolve":{"scale":{"fill":"independent","stroke":"independent","strokeDash":"independent"},"legend":{"fill":"independent","stroke":"independent","strokeDash":"independent"}},
     "vconcat":[
      {"width":287,"height":1,"view":{"stroke":null},"title":{"text":"(g-1) Response in surface diurnal variation","dx":-63,"offset":2},"data":{"values":[]},"mark":"point","encoding":{}},
      {"width":287,"height":104,
       "data":{"name":"resp"},
       "transform":[{"filter":"datum.p == 'g1'"}],
       "resolve":{"scale":{"y":"independent"}},
       "layer":[
        {"layer":[
          {"mark":{"type":"bar","width":{"band":0.42},"xOffset":-2.6,"stroke":"#333","strokeWidth":0.7},
           "encoding":{
            "x":{"field":"x","type":"ordinal","scale":{"paddingInner":0,"paddingOuter":0},"axis":{"labelExpr":"(datum.value - 1) % 3 == 0 ? datum.value + ':00' : ''","title":"Time"}},
            "y":{"field":"ACT","type":"quantitative","scale":{"domain":[0,80],"nice":false},"axis":{"values":[0,40,80],"title":"O₃ conc. ppb"}},
            "fill":{"datum":"ACT","scale":{"domain":["ACT","HYP"],"range":["white","#aaaaaa"]},"legend":{"orient":"none","legendX":-46,"legendY":-23,"direction":"horizontal","title":null,"labelExpr":"'2008' + datum.label","symbolType":"M-1.1,-0.45H1.1V0.45H-1.1Z","symbolSize":400,"symbolStrokeColor":"#333","symbolStrokeWidth":0.8,"labelFontSize":11,"columnPadding":3,"labelOffset":2}}}},
          {"mark":{"type":"bar","width":{"band":0.42},"xOffset":2.6,"stroke":"#333","strokeWidth":0.7},
           "encoding":{
            "x":{"field":"x","type":"ordinal"},
            "y":{"field":"HYP","type":"quantitative","axis":{"title":"O₃ conc. ppb"}},
            "fill":{"datum":"HYP"}}}
        ]},
        {"layer":[
          {"mark":{"type":"rule","color":"red","strokeWidth":1.5},"encoding":{"y":{"datum":0}}},
          {"transform":[{"fold":["netACT","netHYP"],"as":["net","rate"]}],
           "mark":{"type":"line","strokeWidth":1.6},
           "encoding":{
            "x":{"field":"x","type":"ordinal"},
            "y":{"field":"rate","type":"quantitative","scale":{"domain":[-20,20],"nice":false},"axis":{"orient":"right","values":[-20,-10,0,10,20],"title":"Net incr. ppb hr⁻¹"}},
            "stroke":{"field":"net","type":"nominal","scale":{"domain":["netACT","netHYP"],"range":["#3a9a3a","#2040ff"]},"legend":{"orient":"none","legendX":110,"legendY":-23,"direction":"horizontal","title":null,"labelExpr":"datum.label == 'netACT' ? 'NET incr.(ACT)' : 'NET incr.(HYP)'","symbolType":"stroke","symbolSize":300,"symbolStrokeWidth":1.6,"labelFontSize":11,"columnPadding":4,"labelOffset":3}},
            "strokeDash":{"field":"net","type":"nominal","scale":{"domain":["netACT","netHYP"],"range":[[1,0],[7,4]]},"legend":{"orient":"none","legendX":110,"legendY":-23,"direction":"horizontal","title":null,"labelExpr":"datum.label == 'netACT' ? 'NET incr.(ACT)' : 'NET incr.(HYP)'","symbolType":"stroke","symbolSize":300,"symbolStrokeWidth":1.6,"labelFontSize":11,"columnPadding":4,"labelOffset":3}}}}
        ]}
       ]}
     ]}
   ]},
  {"columns":2,"align":"none","bounds":"full","spacing":46,
   "resolve":{"scale":{"fill":"independent","stroke":"independent","strokeDash":"independent"},"legend":{"fill":"independent","stroke":"independent","strokeDash":"independent"}},
   "concat":[
    {"spacing":9.5,"vconcat":[
      {"width":303,"height":1,"view":{"stroke":null},"title":{"text":"(d-1) Diurnal variation in Layer 7 (M. avg.)","dx":-73,"offset":2},"data":{"values":[]},"mark":"point","encoding":{}},
      {"width":303,"height":126,
       "data":{"name":"proc"},
       "transform":[{"filter":"datum.p == 'd1'"},{"fold":["HT","VT","DD","CP","GC"],"as":["proc","val"]},{"filter":"isValid(datum.val) && datum.val != 0"},{"lookup":"proc","from":{"data":{"name":"rank"},"key":"proc","fields":["rank"]}}],
       "mark":"bar",
       "encoding":{
        "x":{"field":"x","type":"ordinal","scale":{"paddingInner":0,"paddingOuter":0},"axis":{"labelExpr":"(datum.value - 1) % 3 == 0 ? datum.value + ':00' : ''","title":"Time"}},
        "y":{"field":"val","type":"quantitative","stack":"zero","scale":{"domain":[-20,20],"nice":false},"axis":{"values":[-20,-10,0,10,20],"title":"Changes in O₃ conc. Ppb.hr⁻¹"}},
        "color":{"field":"proc","type":"nominal","scale":{"domain":["HT","VT","DD","CP","GC"],"range":["#00ffff","#ff00ff","#ccffcc","#ff9900","#ff0000"]}},
        "order":{"field":"rank","type":"quantitative"}
       }}
     ]},
    {"spacing":20.5,"resolve":{"scale":{"fill":"independent","stroke":"independent","strokeDash":"independent"},"legend":{"fill":"independent","stroke":"independent","strokeDash":"independent"}},
     "vconcat":[
      {"width":291,"height":1,"view":{"stroke":null},"title":{"text":"(h-l) Response in Layer 7 diurnal variation","dx":-66,"offset":2},"data":{"values":[]},"mark":"point","encoding":{}},
      {"width":291,"height":103,
       "data":{"name":"resp"},
       "transform":[{"filter":"datum.p == 'h1'"}],
       "resolve":{"scale":{"y":"independent"}},
       "layer":[
        {"layer":[
          {"mark":{"type":"bar","width":{"band":0.42},"xOffset":-2.6,"stroke":"#333","strokeWidth":0.7},
           "encoding":{
            "x":{"field":"x","type":"ordinal","scale":{"paddingInner":0,"paddingOuter":0},"axis":{"labelExpr":"(datum.value - 1) % 3 == 0 ? datum.value + ':00' : ''","title":"Time"}},
            "y":{"field":"ACT","type":"quantitative","scale":{"domain":[0,80],"nice":false},"axis":{"values":[0,40,80],"title":"O₃ conc ppb"}},
            "fill":{"datum":"ACT","scale":{"domain":["ACT","HYP"],"range":["white","#b5b5b5"]},"legend":{"orient":"none","legendX":-32,"legendY":-23,"direction":"horizontal","title":null,"labelExpr":"'2008' + datum.label","symbolType":"M-1.1,-0.45H1.1V0.45H-1.1Z","symbolSize":400,"symbolStrokeColor":"#333","symbolStrokeWidth":0.8,"labelFontSize":11,"columnPadding":3,"labelOffset":2}}}},
          {"mark":{"type":"bar","width":{"band":0.42},"xOffset":2.6,"stroke":"#333","strokeWidth":0.7},
           "encoding":{
            "x":{"field":"x","type":"ordinal"},
            "y":{"field":"HYP","type":"quantitative","axis":{"title":"O₃ conc ppb"}},
            "fill":{"datum":"HYP"}}}
        ]},
        {"layer":[
          {"mark":{"type":"rule","color":"red","strokeWidth":1.5,"strokeDash":[2,3]},"encoding":{"y":{"datum":0}}},
          {"transform":[{"fold":["netACT","netHYP"],"as":["net","rate"]}],
           "mark":{"type":"line","strokeWidth":1.6},
           "encoding":{
            "x":{"field":"x","type":"ordinal"},
            "y":{"field":"rate","type":"quantitative","scale":{"domain":[-4,4],"nice":false},"axis":{"orient":"right","values":[-4,-2,0,2,4],"title":"Net incr. ppb hr⁻¹"}},
            "stroke":{"field":"net","type":"nominal","scale":{"domain":["netACT","netHYP"],"range":["#3a9a3a","#2040ff"]},"legend":{"orient":"none","legendX":117,"legendY":-23,"direction":"horizontal","title":null,"labelExpr":"datum.label == 'netACT' ? 'NET incr.(ACT)' : 'NET incr.(HYP)'","symbolType":"stroke","symbolSize":300,"symbolStrokeWidth":1.6,"labelFontSize":11,"columnPadding":4,"labelOffset":3}},
            "strokeDash":{"field":"net","type":"nominal","scale":{"domain":["netACT","netHYP"],"range":[[1,0],[7,4]]},"legend":{"orient":"none","legendX":117,"legendY":-23,"direction":"horizontal","title":null,"labelExpr":"datum.label == 'netACT' ? 'NET incr.(ACT)' : 'NET incr.(HYP)'","symbolType":"stroke","symbolSize":300,"symbolStrokeWidth":1.6,"labelFontSize":11,"columnPadding":4,"labelOffset":3}}}}
        ]}
       ]}
     ]}
   ]}
 ]
},
{
 "title":{"text":"MIY","anchor":"middle","fontSize":28,"frame":"bounds","offset":15},
 "spacing":27,
 "resolve":{"scale":{"fill":"independent","stroke":"independent","strokeDash":"independent"},"legend":{"fill":"independent","stroke":"independent","strokeDash":"independent"}},
 "vconcat":[
  {"columns":2,"align":"none","bounds":"full","spacing":58,
   "resolve":{"scale":{"fill":"independent","stroke":"independent","strokeDash":"independent"},"legend":{"fill":"independent","stroke":"independent","strokeDash":"independent"}},
   "concat":[
    {"spacing":12.5,"vconcat":[
      {"width":298,"height":1,"view":{"stroke":null},"title":{"text":"(a-2) Contributions in the PBL (D. avg.)","dx":-70,"offset":2},"data":{"values":[]},"mark":"point","encoding":{}},
      {"width":298,"height":116,
       "data":{"name":"proc"},
       "transform":[{"filter":"datum.p == 'a2'"},{"fold":["HT","VT","DD","CP","GC"],"as":["proc","val"]},{"filter":"isValid(datum.val) && datum.val != 0"},{"lookup":"proc","from":{"data":{"name":"rank"},"key":"proc","fields":["rank"]}}],
       "mark":"bar",
       "encoding":{
        "x":{"field":"x","type":"ordinal","scale":{"paddingInner":0,"paddingOuter":0},"axis":{"values":[1,6,11,16,21,26,31],"labelExpr":"'8/' + datum.value","title":"Day"}},
        "y":{"field":"val","type":"quantitative","stack":"zero","scale":{"domain":[-30,30],"nice":false},"axis":{"values":[-30,-20,-10,0,10,20,30],"title":"Changes in O₃ conc. ppb hr⁻¹"}},
        "color":{"field":"proc","type":"nominal","scale":{"domain":["HT","VT","DD","CP","GC"],"range":["#00ffff","#ff00ff","#ccffcc","#ff9900","#ff0000"]}},
        "order":{"field":"rank","type":"quantitative"}
       }}
     ]},
    {"spacing":14.5,"resolve":{"scale":{"fill":"independent","stroke":"independent","strokeDash":"independent"},"legend":{"fill":"independent","stroke":"independent","strokeDash":"independent"}},
     "vconcat":[
      {"width":301,"height":1,"view":{"stroke":null},"title":{"text":"(e-2) Contributions in the PBL (M. avg.)","dx":-65,"offset":2},"data":{"values":[]},"mark":"point","encoding":{}},
      {"width":301,"height":97,
       "data":{"name":"pbl"},
       "transform":[{"filter":"datum.p == 'e2'"}],
       "layer":[
        {"mark":{"type":"rule","strokeDash":[3,3],"color":"#777","strokeWidth":1},
         "encoding":{"x":{"field":"cat","type":"nominal","sort":["Horizontal Transport","Vertical Transport","Dry Deposition","Gas Chemistry","Cloud Processes"],"bandPosition":0}}},
        {"mark":{"type":"bar","stroke":"#222","strokeWidth":0.8},
         "encoding":{
          "x":{"field":"cat","type":"nominal","sort":["Horizontal Transport","Vertical Transport","Dry Deposition","Gas Chemistry","Cloud Processes"],"scale":{"paddingInner":0,"paddingOuter":0},"axis":{"title":null,"ticks":false,"labelExpr":"split(datum.label, ' ')","labelFontSize":11.5,"labelLineHeight":13,"labelPadding":8}},
          "xOffset":{"field":"run","type":"nominal","sort":["2008ACT","2008HYP"],"scale":{"paddingInner":0,"paddingOuter":0.78}},
          "y":{"field":"val","type":"quantitative","stack":null,"scale":{"domain":[-4,4],"nice":false},"axis":{"values":[-4,-2,0,2,4],"title":"Changes in O₃ conc. ppb hr⁻¹"}},
          "fill":{"field":"run","type":"nominal","scale":{"domain":["2008ACT","2008HYP"],"range":["#22ee22","#ff0000"]},"legend":{"orient":"none","legendX":71,"legendY":-27,"direction":"horizontal","title":null,"symbolType":"square","symbolSize":100,"symbolStrokeColor":"black","symbolStrokeWidth":0.8,"labelFontSize":11.5,"columnPadding":40,"labelOffset":3}}}},
        {"mark":{"type":"rule","color":"black","strokeWidth":1.2},"encoding":{"y":{"datum":0}}}
       ]}
     ]}
   ]},
  {"columns":2,"align":"none","bounds":"full","spacing":43,
   "resolve":{"scale":{"fill":"independent","stroke":"independent","strokeDash":"independent"},"legend":{"fill":"independent","stroke":"independent","strokeDash":"independent"}},
   "concat":[
    {"spacing":21.5,"vconcat":[
      {"width":314,"height":1,"view":{"stroke":null},"title":{"text":"(b-2) Vertical profile (M. avg.)","dx":-62,"offset":2},"data":{"values":[]},"mark":"point","encoding":{}},
      {"width":314,"height":122,
       "layer":[
        {"data":{"name":"proc"},
         "transform":[{"filter":"datum.p == 'b2'"},{"fold":["HT","VT","DD","CP","GC"],"as":["proc","val"]},{"filter":"isValid(datum.val) && datum.val != 0"},{"lookup":"proc","from":{"data":{"name":"rank"},"key":"proc","fields":["rank"]}}],
         "mark":"bar",
         "encoding":{
          "y":{"field":"x","type":"ordinal","scale":{"domain":[14,13,12,11,10,9,8,7,6,5,4,3,2,1],"paddingInner":0,"paddingOuter":0},"axis":{"values":[1,4,7,10,13],"title":"Layer"}},
          "x":{"field":"val","type":"quantitative","stack":"zero","scale":{"domain":[-80,80],"nice":false},"axis":{"values":[-80,-40,0,40,80],"title":"Changes in O₃ conc. ppb hr⁻¹"}},
          "color":{"field":"proc","type":"nominal","scale":{"domain":["HT","VT","DD","CP","GC"],"range":["#00ffff","#ff00ff","#ccffcc","#ff9900","#ff0000"]}},
          "order":{"field":"rank","type":"quantitative"}}},
        {"data":{"values":[{}]},"mark":{"type":"rule","color":"black","strokeWidth":1.5},"encoding":{"x":{"datum":0}}},
        {"data":{"values":[{}]},"mark":{"type":"rule","color":"#ff2020","strokeWidth":1.5},"encoding":{"y":{"datum":10,"type":"ordinal","bandPosition":0}}}
       ]}
     ]},
    {"spacing":21.5,"vconcat":[
      {"width":316,"height":1,"view":{"stroke":null},"title":{"text":"(f-2) Response in vertical profile(HYP-ACT)","dx":-64,"offset":2},"data":{"values":[]},"mark":"point","encoding":{}},
      {"width":316,"height":122,
       "layer":[
        {"data":{"name":"proc"},
         "transform":[{"filter":"datum.p == 'f2'"},{"fold":["HT","VT","DD","CP","GC"],"as":["proc","val"]},{"filter":"isValid(datum.val) && datum.val != 0"},{"lookup":"proc","from":{"data":{"name":"rank"},"key":"proc","fields":["rank"]}}],
         "mark":"bar",
         "encoding":{
          "y":{"field":"x","type":"ordinal","scale":{"domain":[14,13,12,11,10,9,8,7,6,5,4,3,2,1],"paddingInner":0,"paddingOuter":0},"axis":{"values":[1,4,7,10,13],"title":"Layer"}},
          "x":{"field":"val","type":"quantitative","stack":"zero","scale":{"domain":[-6,6],"nice":false},"axis":{"values":[-6,-4,-2,0,2,4,6],"title":"Changes in O₃ conc. ppb hr⁻¹"}},
          "color":{"field":"proc","type":"nominal","scale":{"domain":["HT","VT","DD","CP","GC"],"range":["#00ffff","#ff00ff","#ccffcc","#ff9900","#ff0000"]}},
          "order":{"field":"rank","type":"quantitative"}}},
        {"data":{"values":[{}]},"mark":{"type":"rule","color":"black","strokeWidth":1.5},"encoding":{"x":{"datum":0}}},
        {"data":{"values":[{}]},"mark":{"type":"rule","color":"#ff2020","strokeWidth":1.5},"encoding":{"y":{"datum":10,"type":"ordinal","bandPosition":0}}}
       ]}
     ]}
   ]},
  {"columns":2,"align":"none","bounds":"full","spacing":61,
   "resolve":{"scale":{"fill":"independent","stroke":"independent","strokeDash":"independent"},"legend":{"fill":"independent","stroke":"independent","strokeDash":"independent"}},
   "concat":[
    {"spacing":9.5,"vconcat":[
      {"width":297,"height":1,"view":{"stroke":null},"title":{"text":"(c-2) Diurnal variation in surface (M. avg.)","dx":-75,"offset":2},"data":{"values":[]},"mark":"point","encoding":{}},
      {"width":297,"height":123,
       "data":{"name":"proc"},
       "transform":[{"filter":"datum.p == 'c2'"},{"fold":["HT","VT","DD","CP","GC"],"as":["proc","val"]},{"filter":"isValid(datum.val) && datum.val != 0"},{"lookup":"proc","from":{"data":{"name":"rank"},"key":"proc","fields":["rank"]}}],
       "mark":"bar",
       "encoding":{
        "x":{"field":"x","type":"ordinal","scale":{"paddingInner":0,"paddingOuter":0},"axis":{"labelExpr":"(datum.value - 1) % 3 == 0 ? datum.value + ':00' : ''","title":"Time"}},
        "y":{"field":"val","type":"quantitative","stack":"zero","scale":{"domain":[-100,100],"nice":false},"axis":{"values":[-100,-50,0,50,100],"title":"Changes in O₃ conc. ppb hr⁻¹"}},
        "color":{"field":"proc","type":"nominal","scale":{"domain":["HT","VT","DD","CP","GC"],"range":["#00ffff","#ff00ff","#ccffcc","#ff9900","#ff0000"]}},
        "order":{"field":"rank","type":"quantitative"}
       }}
     ]},
    {"spacing":19.5,"resolve":{"scale":{"fill":"independent","stroke":"independent","strokeDash":"independent"},"legend":{"fill":"independent","stroke":"independent","strokeDash":"independent"}},
     "vconcat":[
      {"width":297,"height":1,"view":{"stroke":null},"title":{"text":"(g-2) Response in surface diurnal variation","dx":-56,"offset":2},"data":{"values":[]},"mark":"point","encoding":{}},
      {"width":297,"height":105,
       "data":{"name":"resp"},
       "transform":[{"filter":"datum.p == 'g2'"}],
       "resolve":{"scale":{"y":"independent"}},
       "layer":[
        {"layer":[
          {"mark":{"type":"bar","width":{"band":0.42},"xOffset":-2.6,"stroke":"#333","strokeWidth":0.7},
           "encoding":{
            "x":{"field":"x","type":"ordinal","scale":{"paddingInner":0,"paddingOuter":0},"axis":{"labelExpr":"(datum.value - 1) % 3 == 0 ? datum.value + ':00' : ''","title":"Time"}},
            "y":{"field":"ACT","type":"quantitative","scale":{"domain":[0,80],"nice":false},"axis":{"values":[0,40,80],"title":"O₃ conc. ppb"}},
            "fill":{"datum":"ACT","scale":{"domain":["ACT","HYP"],"range":["white","#aaaaaa"]},"legend":{"orient":"none","legendX":-20,"legendY":-21,"direction":"horizontal","title":null,"labelExpr":"'2008' + datum.label","symbolType":"M-1.1,-0.45H1.1V0.45H-1.1Z","symbolSize":400,"symbolStrokeColor":"#333","symbolStrokeWidth":0.8,"labelFontSize":11,"columnPadding":3,"labelOffset":2}}}},
          {"mark":{"type":"bar","width":{"band":0.42},"xOffset":2.6,"stroke":"#333","strokeWidth":0.7},
           "encoding":{
            "x":{"field":"x","type":"ordinal"},
            "y":{"field":"HYP","type":"quantitative","axis":{"title":"O₃ conc. ppb"}},
            "fill":{"datum":"HYP"}}}
        ]},
        {"layer":[
          {"mark":{"type":"rule","color":"red","strokeWidth":1.5,"strokeDash":[2,3]},"encoding":{"y":{"datum":0}}},
          {"transform":[{"fold":["netACT","netHYP"],"as":["net","rate"]}],
           "mark":{"type":"line","strokeWidth":1.6},
           "encoding":{
            "x":{"field":"x","type":"ordinal"},
            "y":{"field":"rate","type":"quantitative","scale":{"domain":[-5,5],"nice":false},"axis":{"orient":"right","values":[-5,0,5],"title":"Net incr. ppb hr⁻¹"}},
            "stroke":{"field":"net","type":"nominal","scale":{"domain":["netACT","netHYP"],"range":["#3a9a3a","#2040ff"]},"legend":{"orient":"none","legendX":124,"legendY":-21,"direction":"horizontal","title":null,"labelExpr":"datum.label == 'netACT' ? 'NET incr.(ACT)' : 'NET incr.(HYP)'","symbolType":"stroke","symbolSize":300,"symbolStrokeWidth":1.6,"labelFontSize":11,"columnPadding":4,"labelOffset":3}},
            "strokeDash":{"field":"net","type":"nominal","scale":{"domain":["netACT","netHYP"],"range":[[1,0],[7,4]]},"legend":{"orient":"none","legendX":124,"legendY":-21,"direction":"horizontal","title":null,"labelExpr":"datum.label == 'netACT' ? 'NET incr.(ACT)' : 'NET incr.(HYP)'","symbolType":"stroke","symbolSize":300,"symbolStrokeWidth":1.6,"labelFontSize":11,"columnPadding":4,"labelOffset":3}}}}
        ]}
       ]}
     ]}
   ]},
  {"columns":2,"align":"none","bounds":"full","spacing":37,
   "resolve":{"scale":{"fill":"independent","stroke":"independent","strokeDash":"independent"},"legend":{"fill":"independent","stroke":"independent","strokeDash":"independent"}},
   "concat":[
    {"spacing":9.5,"vconcat":[
      {"width":313,"height":1,"view":{"stroke":null},"title":{"text":"(d-2) Diurnal variation in Layer 7 (M. avg.)","dx":-66,"offset":2},"data":{"values":[]},"mark":"point","encoding":{}},
      {"width":313,"height":126,
       "data":{"name":"proc"},
       "transform":[{"filter":"datum.p == 'd2'"},{"fold":["HT","VT","DD","CP","GC"],"as":["proc","val"]},{"filter":"isValid(datum.val) && datum.val != 0"},{"lookup":"proc","from":{"data":{"name":"rank"},"key":"proc","fields":["rank"]}}],
       "mark":"bar",
       "encoding":{
        "x":{"field":"x","type":"ordinal","scale":{"paddingInner":0,"paddingOuter":0},"axis":{"labelExpr":"(datum.value - 1) % 3 == 0 ? datum.value + ':00' : ''","title":"Time"}},
        "y":{"field":"val","type":"quantitative","stack":"zero","scale":{"domain":[-20,20],"nice":false},"axis":{"values":[-20,-10,0,10,20],"title":"Changes in O₃ conc. ppb.hr⁻¹"}},
        "color":{"field":"proc","type":"nominal","scale":{"domain":["HT","VT","DD","CP","GC"],"range":["#00ffff","#ff00ff","#ccffcc","#ff9900","#ff0000"]}},
        "order":{"field":"rank","type":"quantitative"}
       }}
     ]},
    {"spacing":20.5,"resolve":{"scale":{"fill":"independent","stroke":"independent","strokeDash":"independent"},"legend":{"fill":"independent","stroke":"independent","strokeDash":"independent"}},
     "vconcat":[
      {"width":290,"height":1,"view":{"stroke":null},"title":{"text":"(h-2) Response in Layer 7 diurnal variation","dx":-61,"offset":2},"data":{"values":[]},"mark":"point","encoding":{}},
      {"width":290,"height":103,
       "data":{"name":"resp"},
       "transform":[{"filter":"datum.p == 'h2'"}],
       "resolve":{"scale":{"y":"independent"}},
       "layer":[
        {"layer":[
          {"mark":{"type":"bar","width":{"band":0.42},"xOffset":-2.6,"stroke":"#333","strokeWidth":0.7},
           "encoding":{
            "x":{"field":"x","type":"ordinal","scale":{"paddingInner":0,"paddingOuter":0},"axis":{"labelExpr":"(datum.value - 1) % 3 == 0 ? datum.value + ':00' : ''","title":"Time"}},
            "y":{"field":"ACT","type":"quantitative","scale":{"domain":[0,80],"nice":false},"axis":{"values":[0,40,80],"title":"O₃ conc ppb"}},
            "fill":{"datum":"ACT","scale":{"domain":["ACT","HYP"],"range":["white","#b5b5b5"]},"legend":{"orient":"none","legendX":-26,"legendY":-23,"direction":"horizontal","title":null,"labelExpr":"'2008' + datum.label","symbolType":"M-1.1,-0.45H1.1V0.45H-1.1Z","symbolSize":400,"symbolStrokeColor":"#333","symbolStrokeWidth":0.8,"labelFontSize":11,"columnPadding":3,"labelOffset":2}}}},
          {"mark":{"type":"bar","width":{"band":0.42},"xOffset":2.6,"stroke":"#333","strokeWidth":0.7},
           "encoding":{
            "x":{"field":"x","type":"ordinal"},
            "y":{"field":"HYP","type":"quantitative","axis":{"title":"O₃ conc ppb"}},
            "fill":{"datum":"HYP"}}}
        ]},
        {"layer":[
          {"mark":{"type":"rule","color":"red","strokeWidth":1.5,"strokeDash":[2,3]},"encoding":{"y":{"datum":0}}},
          {"transform":[{"fold":["netACT","netHYP"],"as":["net","rate"]}],
           "mark":{"type":"line","strokeWidth":1.6},
           "encoding":{
            "x":{"field":"x","type":"ordinal"},
            "y":{"field":"rate","type":"quantitative","scale":{"domain":[-4,4],"nice":false},"axis":{"orient":"right","values":[-4,-2,0,2,4],"title":"Net incr. ppb hr⁻¹"}},
            "stroke":{"field":"net","type":"nominal","scale":{"domain":["netACT","netHYP"],"range":["#3a9a3a","#2040ff"]},"legend":{"orient":"none","legendX":124,"legendY":-23,"direction":"horizontal","title":null,"labelExpr":"datum.label == 'netACT' ? 'NET incr.(ACT)' : 'NET incr.(HYP)'","symbolType":"stroke","symbolSize":300,"symbolStrokeWidth":1.6,"labelFontSize":11,"columnPadding":4,"labelOffset":3}},
            "strokeDash":{"field":"net","type":"nominal","scale":{"domain":["netACT","netHYP"],"range":[[1,0],[7,4]]},"legend":{"orient":"none","legendX":124,"legendY":-23,"direction":"horizontal","title":null,"labelExpr":"datum.label == 'netACT' ? 'NET incr.(ACT)' : 'NET incr.(HYP)'","symbolType":"stroke","symbolSize":300,"symbolStrokeWidth":1.6,"labelFontSize":11,"columnPadding":4,"labelOffset":3}}}}
        ]}
       ]}
     ]}
   ]}
 ]
}
]
}
